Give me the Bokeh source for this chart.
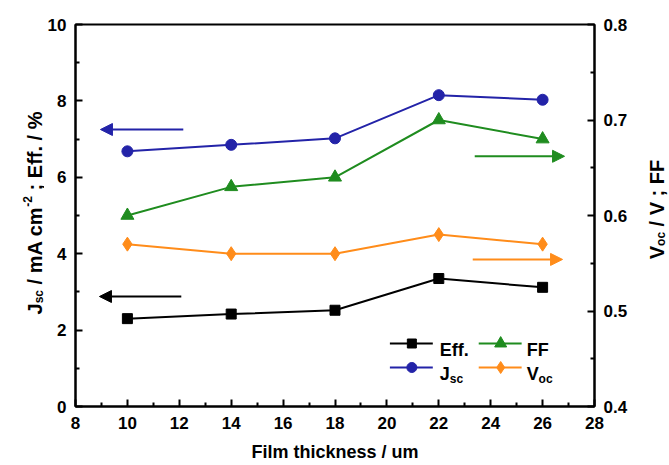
import math
from bokeh.plotting import figure
from bokeh.layouts import row
from bokeh.models import Range1d, LinearAxis, FixedTicker, Label, Arrow, NormalHead
from bokeh.embed import file_html
from bokeh.resources import INLINE

# ---------------- data ----------------
thickness = [10, 14, 18, 22, 26]                 # um
jsc = [6.68, 6.85, 7.02, 8.15, 8.03]             # mA cm^-2 (left axis)
eff = [2.30, 2.42, 2.52, 3.35, 3.12]             # %        (left axis)
ff = [0.600, 0.630, 0.640, 0.700, 0.680]         #          (right axis)
voc = [0.570, 0.560, 0.560, 0.580, 0.570]        # V        (right axis)

x_ticks = [8, 10, 12, 14, 16, 18, 20, 22, 24, 26, 28]
x_minor = [9, 11, 13, 15, 17, 19, 21, 23, 25, 27]
left_ticks = [0, 2, 4, 6, 8, 10]
left_minor = [1, 3, 5, 7, 9]
right_ticks = [0.4, 0.5, 0.6, 0.7, 0.8]
right_minor = [0.45, 0.55, 0.65, 0.75]
right_labels = {0.4: "0.4", 0.5: "0.5", 0.6: "0.6", 0.7: "0.7", 0.8: "0.8"}

x_label = "Film thickness / um"

# ---------------- styles / geometry ----------------
FONT = "Liberation Sans"
BLUE = "#2323a8"
GREEN = "#1f8c1f"
ORANGE = "#ff8c1a"
BLACK = "#000000"

H = 465
LW, RW = 44, 39                  # side panels holding the rotated titles
MW = 669 - LW - RW               # main figure width
FX0, FX1, FY0, FY1 = 75, 595, 24, 406   # frame edges on the page
BL = FX0 - LW
BR = (LW + MW) - FX1
BT = FY0
BB = H - FY1

def rx(px):
    return 8 + (px - FX0) * 20.0 / (FX1 - FX0)

def ry(py):
    return (FY1 - py) * 10.0 / (FY1 - FY0)

# Arial/Liberation Sans Bold advance widths (per 1000 em)
ADV = {" ": 278, "/": 278, ";": 333, ".": 278, "%": 889, "-": 333, "2": 556,
       "J": 556, "s": 556, "c": 556, "m": 889, "A": 722, "E": 667, "f": 333,
       "V": 667, "o": 611, "F": 611}

def tw(s, size):
    return sum(ADV.get(ch, 556) for ch in s) * size / 1000.0

# ---------------- main figure ----------------
p = figure(width=MW, height=H, x_range=Range1d(8, 28), y_range=Range1d(0, 10),
           output_backend="svg", toolbar_location=None,
           min_border_left=BL, min_border_right=BR, min_border_top=BT, min_border_bottom=BB)
p.extra_y_ranges = {"right": Range1d(0.4, 0.8)}
p.xgrid.visible = False
p.ygrid.visible = False
p.outline_line_color = BLACK
p.outline_line_width = 2
p.background_fill_color = "white"
p.border_fill_color = "white"

raxis = LinearAxis(y_range_name="right")
p.add_layout(raxis, "right")

p.xaxis.ticker = FixedTicker(ticks=x_ticks, minor_ticks=x_minor)
p.yaxis.ticker = FixedTicker(ticks=left_ticks, minor_ticks=left_minor)
raxis.ticker = FixedTicker(ticks=right_ticks, minor_ticks=right_minor)
raxis.major_label_overrides = right_labels

for ax in [p.xaxis[0], p.yaxis[0], raxis]:
    ax.axis_line_width = 2
    ax.axis_line_color = BLACK
    ax.major_tick_line_width = 2
    ax.minor_tick_line_width = 2
    ax.major_tick_line_color = BLACK
    ax.minor_tick_line_color = BLACK
    ax.major_tick_in = 7
    ax.major_tick_out = 0
    ax.minor_tick_in = 4
    ax.minor_tick_out = 0
    ax.major_label_text_font = FONT
    ax.major_label_text_font_style = "bold"
    ax.major_label_text_font_size = "17px"
    ax.major_label_text_color = BLACK
    ax.major_label_standoff = 9
p.xaxis.major_label_standoff = 10

p.xaxis.axis_label = x_label
p.xaxis.axis_label_text_font = FONT
p.xaxis.axis_label_text_font_style = "bold"
p.xaxis.axis_label_text_font_size = "18px"
p.xaxis.axis_label_text_color = BLACK
p.xaxis.axis_label_standoff = 10

# ---------------- series ----------------
p.line(thickness, jsc, line_color=BLUE, line_width=2)
p.scatter(thickness, jsc, marker="circle", size=11, fill_color=BLUE, line_color=BLUE)
p.line(thickness, eff, line_color=BLACK, line_width=2)
p.scatter(thickness, eff, marker="square", size=10, fill_color=BLACK, line_color=BLACK)
p.line(thickness, ff, line_color=GREEN, line_width=2, y_range_name="right")
p.scatter(thickness, ff, marker="triangle", size=13, fill_color=GREEN, line_color=GREEN,
          y_range_name="right")
p.line(thickness, voc, line_color=ORANGE, line_width=2, y_range_name="right")
p.scatter(thickness, voc, marker="diamond", size=14, fill_color=ORANGE, line_color=ORANGE,
          y_range_name="right")

# ---------------- axis-indicator arrows ----------------
def arrow(x0, y0, x1, y1, color, rng="default"):
    p.add_layout(Arrow(x_start=x0, y_start=y0, x_end=x1, y_end=y1, line_color=color,
                       line_width=2, y_range_name=rng,
                       end=NormalHead(size=12, fill_color=color, line_color=color)))

arrow(rx(183), ry(129), rx(100), ry(129), BLUE)
arrow(rx(181), ry(296), rx(99), ry(296), BLACK)
arrow(rx(475), 0.662, rx(565), 0.662, GREEN, "right")
arrow(rx(473), 0.554, rx(563), 0.554, ORANGE, "right")

# ---------------- legend (drawn by hand for the subscripts) ----------------
legend_items = [
    # (x_line0, x_marker, x_line1, y, color, marker, size, text, sub, x_text)
    (390, 412, 433, 343, BLACK, "square", 9, "Eff.", "", 440),
    (479, 501, 522, 343, GREEN, "triangle", 12, "FF", "", 527),
    (390, 412, 433, 367, BLUE, "circle", 10, "J", "sc", 440),
    (479, 501, 522, 367, ORANGE, "diamond", 12, "V", "oc", 527),
]
PXX = 20.0 / (FX1 - FX0)
for xa, xm, xb, yy, col, mk, sz, txt, sub, xt in legend_items:
    p.line([rx(xa), rx(xb)], [ry(yy), ry(yy)], line_color=col, line_width=2)
    p.scatter([rx(xm)], [ry(yy)], marker=mk, size=sz, fill_color=col, line_color=col)
    p.add_layout(Label(x=rx(xt), y=ry(yy + 6.5), text=txt, text_font=FONT,
                       text_font_style="bold", text_font_size="18px", text_color=BLACK,
                       text_align="left", text_baseline="alphabetic"))
    if sub:
        p.add_layout(Label(x=rx(xt) + tw(txt, 18) * PXX, y=ry(yy + 11), text=sub,
                           text_font=FONT, text_font_style="bold", text_font_size="12px",
                           text_color=BLACK, text_align="left", text_baseline="alphabetic"))

# ---------------- side panels with rotated titles ----------------
# Their frames span the same vertical band as the main frame; data = page pixels
def side_panel(w):
    f = figure(width=w, height=H, x_range=Range1d(0, w), y_range=Range1d(H - FY1, H - FY0),
               output_backend="svg", toolbar_location=None, title=None,
               x_axis_location=None, y_axis_location=None,
               min_border_left=0, min_border_right=0,
               min_border_top=BT, min_border_bottom=BB)
    f.grid.visible = False
    f.outline_line_color = None
    f.background_fill_color = "white"
    f.border_fill_color = "white"
    return f

def rot_label(f, x_page_off, x_base, y_start_page, pieces):
    """pieces: (text, size_px, offset_px_along_text, baseline_shift_px)"""
    for text, size, off, shift in pieces:
        f.add_layout(Label(x=x_base + shift - x_page_off, y=H - y_start_page + off,
                           text=text, angle=math.pi / 2, text_font=FONT,
                           text_font_style="bold", text_font_size=f"{size}px",
                           text_color=BLACK, text_align="left", text_baseline="alphabetic"))

MS, SS = 20, 12
left = side_panel(LW)
o_sc = tw("J", MS)
o_mid = o_sc + tw("sc", SS) + tw(" ", MS)
o_sup = o_mid + tw("/ mA cm", MS)
o_end = o_sup + tw("-2", SS) + tw(" ", MS)
left_len = o_end + tw("; Eff. / %", MS)
rot_label(left, 0, 34.5, 212.5 + left_len / 2,
          [("J", MS, 0, 0), ("sc", SS, o_sc, 4), ("/ mA cm", MS, o_mid, 0),
           ("-2", SS, o_sup, -8), ("; Eff. / %", MS, o_end, 0)])

right = side_panel(RW)
r_oc = tw("V", MS)
r_mid = r_oc + tw("oc", SS) + tw(" ", MS)
right_len = r_mid + tw("/ V ; FF", MS)
rot_label(right, LW + MW, 656, 209 + right_len / 2,
          [("V", MS, 0, 0), ("oc", SS, r_oc, 4), ("/ V ; FF", MS, r_mid, 0)])

layout = row(left, p, right, spacing=0)
open("out.html", "w").write(file_html(layout, INLINE))
